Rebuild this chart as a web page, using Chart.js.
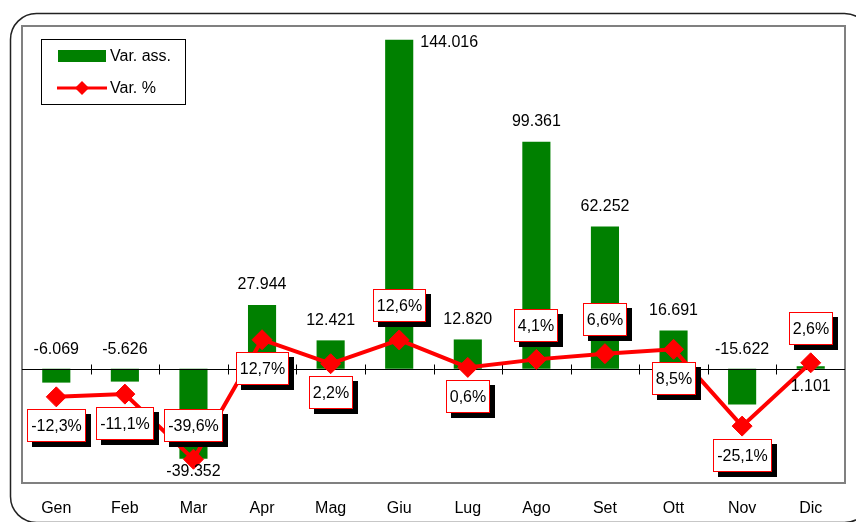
<!DOCTYPE html>
<html><head><meta charset="utf-8">
<script src="https://cdn.jsdelivr.net/npm/chart.js@4/dist/chart.umd.min.js"></script>
<style>html,body{margin:0;padding:0;background:#fff;overflow:hidden}#wrap{width:856px;height:522px;position:relative}</style>
</head><body><div id="wrap"><canvas id="c" width="856" height="522"></canvas></div>
<script>
const categories = ['Gen','Feb','Mar','Apr','Mag','Giu','Lug','Ago','Set','Ott','Nov','Dic'];
const varAss = [-6069, -5626, -39352, 27944, 12421, 144016, 12820, 99361, 62252, 16691, -15622, 1101];
const varPct = [-12.3, -11.1, -39.6, 12.7, 2.2, 12.6, 0.6, 4.1, 6.6, 8.5, -25.1, 2.6];
const seriesNames = ['Var. ass.', 'Var. %'];
const barLabelPlacement = ['zeroAbove','zeroAbove','below','above','above','right','above','above','above','above','zeroAbove','zeroBelow'];
const pctLabelPlacement = ['below','below','above','below','below','above','below','above','above','below','below','above'];

const FONT = '"Liberation Sans", Arial, sans-serif';
const GREEN = '#008000';
const RED = '#FF0000';

function fmtInt(v){
  const s = Math.abs(v).toString().replace(/\B(?=(\d{3})+(?!\d))/g, '.');
  return (v < 0 ? '-' : '') + s;
}
function fmtPct(v){ return v.toFixed(1).replace('.', ',') + '%'; }

function diamond(ctx, x, y, r){
  ctx.beginPath();
  ctx.moveTo(x, y - r); ctx.lineTo(x + r, y); ctx.lineTo(x, y + r); ctx.lineTo(x - r, y); ctx.closePath();
}

const framePlugin = {
  id: 'frame',
  beforeDraw(chart){
    const ctx = chart.ctx;
    ctx.save();
    ctx.fillStyle = '#fff';
    ctx.fillRect(0, 0, chart.width, chart.height);
    ctx.strokeStyle = '#222';
    ctx.lineWidth = 1.5;
    ctx.beginPath();
    ctx.roundRect(10.5, 13.5, 860, 509, 26);
    ctx.stroke();
    ctx.restore();
  },
  beforeDatasetsDraw(chart){
    const ctx = chart.ctx, a = chart.chartArea;
    ctx.save();
    ctx.strokeStyle = '#808080';
    ctx.lineWidth = 2;
    ctx.strokeRect(a.left, a.top, a.right - a.left, a.bottom - a.top);
    ctx.restore();
  },
  afterDatasetDraw(chart, args){
    if (args.index !== 0) return;
    const ctx = chart.ctx, a = chart.chartArea;
    const y0 = Math.round(chart.scales.y.getPixelForValue(0)) + 0.5;
    const xs = chart.scales.x;
    ctx.save();
    ctx.strokeStyle = '#000';
    ctx.lineWidth = 1;
    ctx.beginPath();
    ctx.moveTo(a.left, y0); ctx.lineTo(a.right, y0);
    for (let i = 1; i < categories.length; i++){
      const x = Math.round((xs.getPixelForValue(i - 1) + xs.getPixelForValue(i)) / 2) + 0.5;
      ctx.moveTo(x, y0 - 5); ctx.lineTo(x, y0 + 5);
    }
    ctx.stroke();
    ctx.restore();
  },
  afterDatasetsDraw(chart){
    const ctx = chart.ctx;
    const barMeta = chart.getDatasetMeta(0);
    const lineMeta = chart.getDatasetMeta(1);
    const y0 = chart.scales.y.getPixelForValue(0);
    ctx.save();
    ctx.font = '16px ' + FONT;
    ctx.fillStyle = '#000';
    ctx.textBaseline = 'middle';
    barMeta.data.forEach((bar, i) => {
      const v = varAss[i];
      const p = barLabelPlacement[i];
      const txt = fmtInt(v);
      const top = Math.min(bar.y, bar.base), bottom = Math.max(bar.y, bar.base);
      let x = bar.x, y;
      ctx.textAlign = 'center';
      if (p === 'above') y = top - 20;
      else if (p === 'below') y = bottom + 13;
      else if (p === 'zeroAbove') y = y0 - 19;
      else if (p === 'zeroBelow') y = y0 + 18;
      else if (p === 'right') { x = bar.x + bar.width / 2 + 7; y = top + 3; ctx.textAlign = 'left'; }
      ctx.fillText(txt, x, y);
    });
    lineMeta.data.forEach((pt, i) => {
      const txt = fmtPct(varPct[i]);
      const w = Math.round(ctx.measureText(txt).width) + 8;
      const h = 33;
      const cy = pt.y + (pctLabelPlacement[i] === 'above' ? -34 : 29);
      const bx = Math.round(pt.x - w / 2), by = Math.round(cy - h / 2);
      ctx.fillStyle = '#000';
      ctx.fillRect(bx + 5, by + 5, w, h);
      ctx.fillStyle = '#fff';
      ctx.fillRect(bx, by, w, h);
      ctx.strokeStyle = RED;
      ctx.lineWidth = 1;
      ctx.strokeRect(bx + 0.5, by + 0.5, w - 1, h - 1);
      ctx.fillStyle = '#000';
      ctx.textAlign = 'center';
      ctx.fillText(txt, bx + w / 2, by + h / 2 + 1);
    });
    ctx.restore();
  },
  afterDraw(chart){
    const ctx = chart.ctx;
    ctx.save();
    ctx.fillStyle = '#fff';
    ctx.fillRect(41, 39, 144, 65);
    ctx.strokeStyle = '#000';
    ctx.lineWidth = 1;
    ctx.strokeRect(41.5, 39.5, 144, 65);
    ctx.fillStyle = GREEN;
    ctx.fillRect(58, 50, 48, 12);
    ctx.strokeStyle = RED;
    ctx.lineWidth = 3;
    ctx.beginPath(); ctx.moveTo(57, 88); ctx.lineTo(107, 88); ctx.stroke();
    ctx.fillStyle = RED;
    diamond(ctx, 82, 88, 7); ctx.fill();
    ctx.fillStyle = '#000';
    ctx.font = '16px ' + FONT;
    ctx.textBaseline = 'middle';
    ctx.textAlign = 'left';
    ctx.fillText(chart.data.datasets[0].label, 110, 57);
    ctx.fillText(chart.data.datasets[1].label, 110, 89);
    ctx.restore();
  }
};

new Chart(document.getElementById('c'), {
  data: {
    labels: categories,
    datasets: [
      { type: 'bar', label: seriesNames[0], data: varAss, backgroundColor: GREEN, borderWidth: 0,
        barPercentage: 0.41, categoryPercentage: 1, yAxisID: 'y', order: 2 },
      { type: 'line', label: seriesNames[1], data: varPct, borderColor: RED, backgroundColor: RED,
        borderWidth: 4, pointStyle: 'rectRot', pointRadius: 10, pointHoverRadius: 10, pointBorderWidth: 1,
        pointBackgroundColor: RED, pointBorderColor: RED, tension: 0, yAxisID: 'y1', order: 1 }
    ]
  },
  options: {
    responsive: false,
    animation: false,
    devicePixelRatio: 1,
    layout: { padding: { left: 22, top: 26, right: 7, bottom: 0 } },
    plugins: { legend: { display: false }, tooltip: { enabled: false } },
    scales: {
      x: {
        grid: { display: false, drawTicks: false },
        border: { display: false },
        ticks: { color: '#000', font: { family: FONT, size: 16 }, padding: 16, maxRotation: 0 },
        afterFit(scale){ scale.height = 39; }
      },
      y: { display: false, min: -50000, max: 150000 },
      y1: { display: false, min: -50, max: 150 }
    }
  },
  plugins: [framePlugin]
});
</script>
</body></html>
